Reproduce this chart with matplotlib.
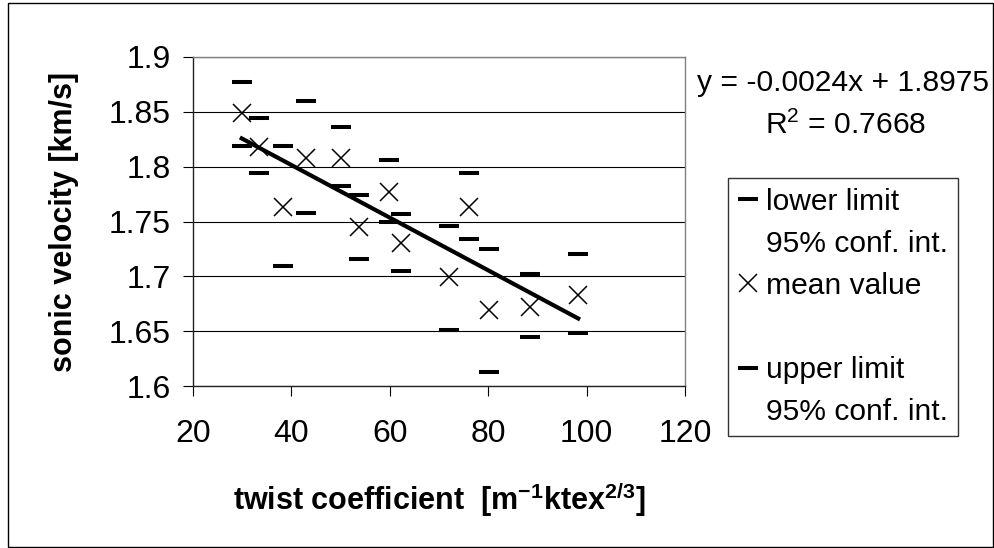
import matplotlib
matplotlib.use("Agg")
import matplotlib.pyplot as plt
from matplotlib.lines import Line2D
from matplotlib.patches import Rectangle
import numpy as np

plt.rcParams['font.family'] = ['Liberation Sans', 'DejaVu Sans']
plt.rcParams['mathtext.fontset'] = 'custom'
plt.rcParams['mathtext.rm'] = 'Liberation Sans'
plt.rcParams['mathtext.bf'] = 'Liberation Sans:bold'

# twist coefficient [m^-1 ktex^2/3]
twist = [29.9, 33.5, 38.2, 42.9, 50.0, 53.7, 59.9, 62.3, 72.1, 76.2, 80.2, 88.5, 98.3]
# sonic velocity [km/s]
mean_val = [1.849, 1.818, 1.763, 1.808, 1.808, 1.745, 1.777, 1.730, 1.699, 1.763, 1.669, 1.672, 1.683]
lower_lim = [1.819, 1.794, 1.709, 1.758, 1.782, 1.716, 1.750, 1.705, 1.651, 1.734, 1.613, 1.645, 1.648]
upper_lim = [1.877, 1.844, 1.819, 1.860, 1.836, 1.774, 1.806, 1.757, 1.746, 1.794, 1.725, 1.702, 1.720]

slope = -0.0024
intercept = 1.8975
r2 = 0.7668

x_ticks = [20, 40, 60, 80, 100, 120]
y_ticks = [1.6, 1.65, 1.7, 1.75, 1.8, 1.85, 1.9]

fs = 21.6
fs_tick = 23

fig = plt.figure(figsize=(9.95, 5.48), dpi=100)
ax = fig.add_axes([0.194, 0.2956, 0.4944, 0.6004])

ax.plot(twist, lower_lim, linestyle='none', marker='_', markersize=14.4,
        markeredgewidth=2.9, color='black', zorder=3)
ax.plot(twist, upper_lim, linestyle='none', marker='_', markersize=14.4,
        markeredgewidth=2.9, color='black', zorder=3)
ax.plot(twist, mean_val, linestyle='none', marker='x', markersize=13.5,
        markeredgewidth=1.1, color='black', zorder=3)

# linear trend of the mean values
tx = np.array([min(twist), max(twist)])
ax.plot(tx, slope * tx + intercept, color='black', linewidth=3, zorder=4)

ax.set_xlim(20, 120)
ax.set_ylim(1.6, 1.9)
ax.set_xticks(x_ticks)
ax.set_yticks(y_ticks)
ax.set_xticklabels([str(v) for v in x_ticks])
ax.set_yticklabels(['1.6', '1.65', '1.7', '1.75', '1.8', '1.85', '1.9'])
ax.tick_params(axis='both', direction='out', length=7, width=0.8,
               labelsize=fs_tick, colors='black')
ax.tick_params(axis='x', pad=17)
ax.tick_params(axis='y', pad=9)
ax.yaxis.grid(True, color='black', linewidth=0.8)
ax.set_axisbelow(True)

for side in ['left', 'bottom']:
    ax.spines[side].set_color('#222222')
    ax.spines[side].set_linewidth(1.0)
for side in ['top', 'right']:
    ax.spines[side].set_color('#808080')
    ax.spines[side].set_linewidth(1.0)

ax.set_ylabel('sonic velocity [km/s]', fontsize=22, fontweight='bold')
ax.yaxis.set_label_coords(-0.262, 0.5)
ax.yaxis.label.set_va('center')
ax.set_xlabel(r'twist coefficient  [m$^{\mathbf{-1}}$ktex$^{\mathbf{2/3}}$]',
              fontsize=22, fontweight='bold')
ax.xaxis.set_label_coords(0.5, -0.345)
ax.xaxis.label.set_va('center')

fig.text(843 / 995, 1 - 83 / 548, 'y = -0.0024x + 1.8975', fontsize=fs,
         ha='center', va='center')
fig.text(846 / 995, 1 - 125 / 548, 'R$^2$ = %.4f' % r2, fontsize=fs,
         ha='center', va='center')

h_dash = Line2D([], [], linestyle='none', marker='_', markersize=14.4,
                markeredgewidth=2.9, color='black')
h_x = Line2D([], [], linestyle='none', marker='x', markersize=13.5,
             markeredgewidth=1.1, color='black')
h_none = Line2D([], [], linestyle='none')
handles = [h_dash, h_none, h_x, h_none, h_dash, h_none]
labels = ['lower limit', '95% conf. int.', 'mean value', ' ',
          'upper limit', '95% conf. int.']
leg = fig.legend(handles, labels, loc='upper left',
                 bbox_to_anchor=(728 / 995, 1 - 178 / 548),
                 fontsize=fs, frameon=True, fancybox=False, shadow=False,
                 borderpad=0.32, labelspacing=0.47, handlelength=0.7,
                 handletextpad=0.25, borderaxespad=0, numpoints=1)
leg.get_frame().set_edgecolor('black')
leg.get_frame().set_linewidth(1.0)

fig.patches.append(Rectangle((8 / 995, 1 / 548), 985 / 995, 544 / 548,
                             transform=fig.transFigure, fill=False,
                             edgecolor='black', linewidth=1.0))

fig.savefig('out.png', dpi=100)
